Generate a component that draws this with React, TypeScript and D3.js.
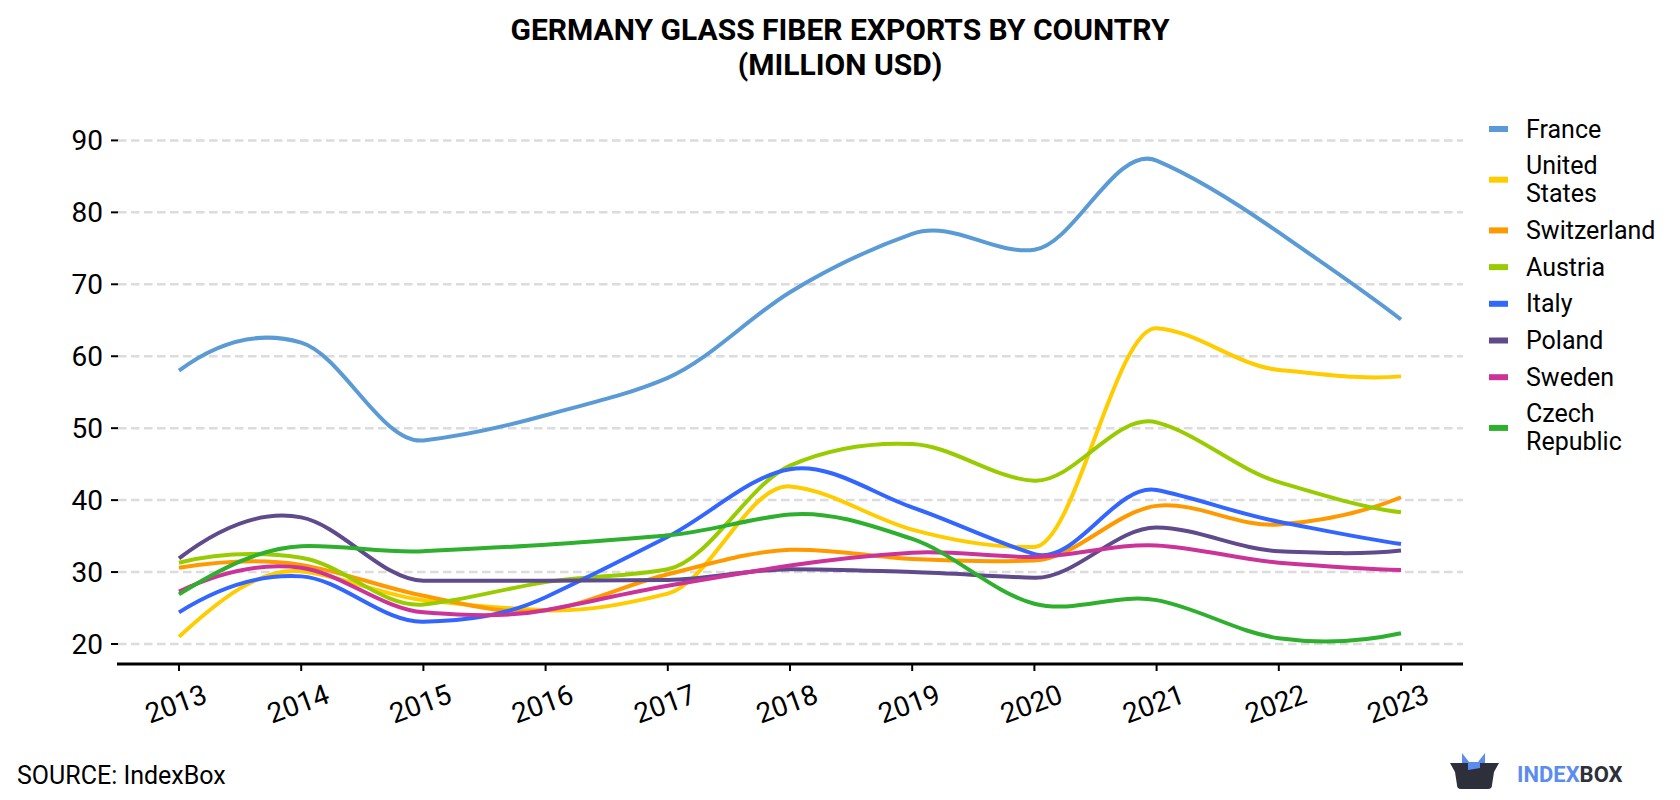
import React from "react";
import * as d3 from "d3";

const years = [2013, 2014, 2015, 2016, 2017, 2018, 2019, 2020, 2021, 2022, 2023];
const france = [58.0, 61.9, 48.3, 51.8, 57.0, 68.9, 77.0, 74.8, 87.2, 77.2, 65.1];
const unitedStates = [21.0, 30.1, 26.1, 24.7, 27.0, 41.9, 35.9, 33.5, 63.9, 58.1, 57.2];
const switzerland = [30.6, 31.0, 26.7, 24.7, 29.7, 33.1, 31.8, 31.6, 39.2, 36.6, 40.4];
const austria = [31.3, 32.0, 25.5, 28.6, 30.4, 44.8, 47.8, 42.7, 50.8, 42.5, 38.3];
const italy = [24.4, 29.4, 23.1, 26.5, 34.9, 44.3, 39.0, 32.5, 41.4, 37.0, 33.9];
const poland = [31.9, 37.6, 28.8, 28.8, 28.9, 30.4, 30.0, 29.2, 36.2, 32.9, 33.0];
const sweden = [27.3, 30.6, 24.4, 24.7, 28.1, 30.9, 32.7, 32.1, 33.7, 31.3, 30.3];
const czechRepublic = [26.9, 33.6, 32.9, 33.8, 35.1, 38.0, 34.6, 25.6, 26.1, 20.8, 21.5];

const seriesNames = ["France", "United States", "Switzerland", "Austria", "Italy", "Poland", "Sweden", "Czech Republic"];
const legendLines = [["France"], ["United", "States"], ["Switzerland"], ["Austria"], ["Italy"], ["Poland"], ["Sweden"], ["Czech", "Republic"]];
const seriesValues = [france, unitedStates, switzerland, austria, italy, poland, sweden, czechRepublic];
const seriesColors = ["#5B9BD5", "#FFCC00", "#FF9900", "#99CC00", "#3366FF", "#5F4B8B", "#CC3399", "#2EAF2E"];
const yTicks = [20, 30, 40, 50, 60, 70, 80, 90];

const titleLines = ["GERMANY GLASS FIBER EXPORTS BY COUNTRY", "(MILLION USD)"];

// Akima spline curve factory for d3.line
class AkimaCurve {
  _context: any;
  _xs: number[] = [];
  _ys: number[] = [];
  _line: number = NaN;
  constructor(context: any) {
    this._context = context;
  }
  areaStart() {
    this._line = 0;
  }
  areaEnd() {
    this._line = NaN;
  }
  lineStart() {
    this._xs = [];
    this._ys = [];
  }
  point(x: number, y: number) {
    this._xs.push(+x);
    this._ys.push(+y);
  }
  lineEnd() {
    const xs = this._xs;
    const ys = this._ys;
    const n = xs.length;
    const ctx = this._context;
    if (n === 0) return;
    ctx.moveTo(xs[0], ys[0]);
    if (n === 1) return;
    if (n === 2) {
      ctx.lineTo(xs[1], ys[1]);
      return;
    }
    const m: number[] = [];
    for (let i = 0; i < n - 1; i++) m.push((ys[i + 1] - ys[i]) / (xs[i + 1] - xs[i]));
    const ext: number[] = [];
    ext.push(3 * m[0] - 2 * m[1]);
    ext.push(2 * m[0] - m[1]);
    for (const v of m) ext.push(v);
    ext.push(2 * m[n - 2] - m[n - 3]);
    ext.push(3 * m[n - 2] - 2 * m[n - 3]);
    const t: number[] = [];
    for (let i = 0; i < n; i++) {
      const mm2 = ext[i];
      const mm1 = ext[i + 1];
      const m0 = ext[i + 2];
      const m1 = ext[i + 3];
      const w1 = Math.abs(m1 - m0);
      const w2 = Math.abs(mm1 - mm2);
      if (w1 + w2 < 1e-12) t.push((mm1 + m0) / 2);
      else t.push((w1 * mm1 + w2 * m0) / (w1 + w2));
    }
    for (let i = 0; i < n - 1; i++) {
      const h = xs[i + 1] - xs[i];
      ctx.bezierCurveTo(
        xs[i] + h / 3,
        ys[i] + (t[i] * h) / 3,
        xs[i + 1] - h / 3,
        ys[i + 1] - (t[i + 1] * h) / 3,
        xs[i + 1],
        ys[i + 1]
      );
    }
  }
}
const curveAkima = (context: any) => new AkimaCurve(context);

export default function App() {
  const W = 1680;
  const H = 800;
  const x = d3.scaleLinear().domain([2013, 2023]).range([179, 1401]);
  const y = d3.scaleLinear().domain([20, 90]).range([644, 140.4]);
  const axisY = 664;
  const gridX0 = 118;
  const gridX1 = 1463;

  const line = d3
    .line<[number, number]>()
    .x((d) => x(d[0]))
    .y((d) => y(d[1]))
    .curve(curveAkima as any);

  const legendCenters: number[] = [];
  let cy = 129;
  legendLines.forEach((ls, i) => {
    if (i > 0) {
      cy += 36.7 + 14 * (legendLines[i - 1].length - 1) + 14 * (ls.length - 1);
    }
    legendCenters.push(cy);
  });

  return (
    <svg width={W} height={H} style={{ display: "block", position: "absolute", left: 0, top: 0 }}>
      <rect x={0} y={0} width={W} height={H} fill="#ffffff" />
      {titleLines.map((t, i) => (
        <text
          key={i}
          x={840}
          y={40 + i * 35}
          textAnchor="middle"
          fontFamily="Roboto"
          fontWeight="bold"
          fontSize={30}
          fill="#000"
        >
          {t}
        </text>
      ))}
      {yTicks.map((t) => (
        <g key={t}>
          <line x1={gridX0} x2={gridX1} y1={y(t)} y2={y(t)} stroke="#dcdcdc" strokeWidth={2.5} strokeDasharray="8.5,4.5" />
          <line x1={111} x2={118} y1={y(t)} y2={y(t)} stroke="#000" strokeWidth={2} />
          <text x={103} y={y(t)} textAnchor="end" dominantBaseline="central" fontFamily="Roboto" fontSize={28} fill="#000">
            {t}
          </text>
        </g>
      ))}
      <line x1={117} x2={1463} y1={axisY} y2={axisY} stroke="#000" strokeWidth={3} />
      {years.map((yr) => (
        <g key={yr}>
          <line x1={x(yr)} x2={x(yr)} y1={axisY} y2={axisY + 7} stroke="#000" strokeWidth={2} />
          <text
            x={x(yr) - 3}
            y={704}
            textAnchor="middle"
            dominantBaseline="central"
            fontFamily="Roboto"
            fontSize={28}
            fill="#000"
            transform={`rotate(-20 ${x(yr) - 3} 704)`}
          >
            {yr}
          </text>
        </g>
      ))}
      {seriesValues.map((vals, i) => (
        <path
          key={seriesNames[i]}
          d={line(vals.map((v, j) => [years[j], v] as [number, number])) || ""}
          fill="none"
          stroke={seriesColors[i]}
          strokeWidth={4}
          strokeLinecap="butt"
        />
      ))}
      {legendLines.map((ls, i) => {
        const c = legendCenters[i];
        const top = c - ((ls.length - 1) * 28) / 2;
        return (
          <g key={i}>
            <rect x={1489} y={c - 3} width={19} height={6} fill={seriesColors[i]} />
            {ls.map((l, k) => (
              <text
                key={k}
                x={1526}
                y={top + k * 28}
                dominantBaseline="central"
                fontFamily="Roboto"
                fontSize={25}
                fill="#000"
              >
                {l}
              </text>
            ))}
          </g>
        );
      })}
      <text x={17} y={784} fontFamily="Roboto" fontSize={25} fill="#000">
        SOURCE: IndexBox
      </text>
      <g>
        <path d="M1462,772 L1462,753 L1469,762 L1478,762 L1485,753 L1485,772 Z" fill="#5B8DEF" />
        <path
          d="M1450,763 L1468,763 L1468,770 L1480,768 L1480,763 L1499,763 L1494,772 L1492,785 Q1492,789 1488,789 L1461,789 Q1457,789 1457,785 L1455,772 Z"
          fill="#2D2F3B"
        />
        <text x={1517} y={782} fontFamily="Roboto" fontWeight="bold" fontSize={22} fill="#5B8DEF">
          INDEX
          <tspan fill="#2D2F3B">BOX</tspan>
        </text>
      </g>
    </svg>
  );
}
